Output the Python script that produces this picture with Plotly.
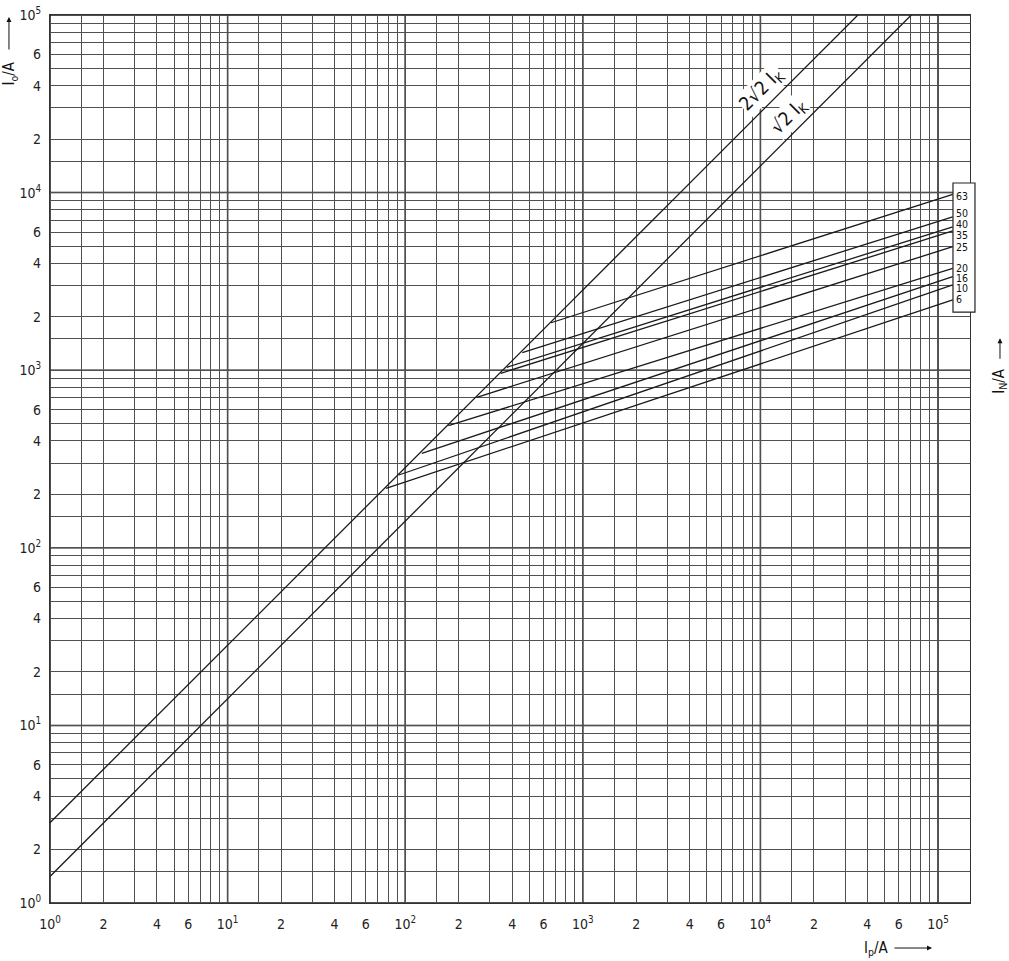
import numpy as np
import plotly.graph_objects as go

# ---- data ----
# limiting lines (Io = k * Ip)
ip_2sqrt2 = [1.0, 35400.0]
io_2sqrt2 = [2.83, 100000.0]
ip_sqrt2 = [1.0, 70700.0]
io_sqrt2 = [1.41, 100000.0]

# fuse ratings IN / A
ratings = ["63", "50", "40", "35", "25", "20", "16", "10", "6"]
ip_start = [662, 456, 373, 345, 253, 175, 124, 92, 78]
io_start = [1850, 1255, 1038, 961, 704, 487, 340, 257, 216]
ip_end = 121000
io_end = [9780, 7310, 6420, 6080, 4960, 3740, 3360, 3020, 2485]
label_io = [9600, 7640, 6620, 5770, 4920, 3780, 3290, 2890, 2517]

decades = [1, 10, 100, 1000, 10000, 100000]
labelled_mult = [2, 4, 6]
minor_mult = [1.5, 2, 3, 4, 5, 6, 7, 8, 9]

FONT = "DejaVu Sans Condensed, Liberation Sans Narrow, DejaVu Sans, sans-serif"

tickvals, ticktext = [], []
for i, d in enumerate(decades):
    tickvals.append(d)
    ticktext.append(f"10<sup>{i}</sup>")
    if d < 100000:
        for m in labelled_mult:
            tickvals.append(d * m)
            ticktext.append(str(m))
minor_vals = [d * m for d in decades[:-1] for m in minor_mult] + [150000]

fig = go.Figure()
line_style = dict(color="#1a1a1a", width=1.3)
fig.add_trace(go.Scatter(x=ip_2sqrt2, y=io_2sqrt2, mode="lines", line=line_style,
                         hoverinfo="skip", showlegend=False))
fig.add_trace(go.Scatter(x=ip_sqrt2, y=io_sqrt2, mode="lines", line=line_style,
                         hoverinfo="skip", showlegend=False))
for r, x0, y0, y1 in zip(ratings, ip_start, io_start, io_end):
    fig.add_trace(go.Scatter(x=[x0, ip_end], y=[y0, y1], mode="lines", line=line_style,
                             name=r, hoverinfo="skip", showlegend=False))

axis_common = dict(
    type="log", tickvals=tickvals, ticktext=ticktext,
    showgrid=True, gridcolor="#505050", gridwidth=1,
    minor=dict(tickvals=minor_vals, showgrid=True, gridcolor="#505050", gridwidth=1, ticks=""),
    showline=True, linecolor="#333333", linewidth=1.2, mirror=True,
    ticks="", zeroline=False, automargin=False,
    tickfont=dict(family=FONT, size=14, color="#222222"),
)
fig.update_xaxes(**axis_common, range=[0, 5.18], ticklabelstandoff=8)
fig.update_yaxes(**axis_common, range=[0, 5], ticklabelstandoff=5)

shapes = []
for d in decades:
    shapes.append(dict(type="line", xref="x", yref="paper", x0=d, x1=d, y0=0, y1=1,
                       line=dict(color="#151515", width=1.5), layer="below"))
    shapes.append(dict(type="line", xref="paper", yref="y", x0=0, x1=1, y0=d, y1=d,
                       line=dict(color="#151515", width=1.5), layer="below"))
# box holding the rating labels
shapes.append(dict(type="rect", xref="paper", yref="paper", x0=0.9815, x1=1.0054,
                   y0=0.6655, y1=0.8108, line=dict(color="#222222", width=1.2),
                   fillcolor="white", layer="above"))
fig.update_layout(shapes=shapes)

ann = []
for r, yv in zip(ratings, label_io):
    ann.append(dict(xref="paper", yref="y", x=0.9822, y=np.log10(yv), text=r,
                    showarrow=False, xanchor="left", yanchor="middle",
                    font=dict(family=FONT, size=10.5, color="#111111")))
# line labels
ann.append(dict(xref="x", yref="y", x=4.007, y=4.578, text="2√2 I<sub>K</sub>", textangle=-45,
                showarrow=False, bgcolor="white", borderpad=0,
                font=dict(family=FONT, size=19, color="#111111")))
ann.append(dict(xref="x", yref="y", x=4.161, y=4.426, text="√2 I<sub>K</sub>", textangle=-45,
                showarrow=False, bgcolor="white", borderpad=0,
                font=dict(family=FONT, size=19, color="#111111")))
# axis titles
title_font = dict(family=FONT, size=15, color="#111111")
ann.append(dict(xref="paper", yref="paper", x=-0.0435, y=0.934, text="I<sub>o</sub>/A",
                textangle=-90, showarrow=False, xanchor="center", yanchor="middle",
                font=title_font))
ann.append(dict(xref="paper", yref="paper", x=-0.0446, y=0.9977, text="", showarrow=True,
                ax=0, ay=34, arrowhead=2, arrowsize=1, arrowwidth=1, arrowcolor="#111111"))
ann.append(dict(xref="paper", yref="paper", x=1.0326, y=0.588, text="I<sub>N</sub>/A",
                textangle=-90, showarrow=False, xanchor="center", yanchor="middle",
                font=title_font))
ann.append(dict(xref="paper", yref="paper", x=1.0326, y=0.636, text="", showarrow=True,
                ax=0, ay=22, arrowhead=2, arrowsize=1, arrowwidth=1, arrowcolor="#111111"))
ann.append(dict(xref="paper", yref="paper", x=0.898, y=-0.0507, text="I<sub>p</sub>/A",
                showarrow=False, xanchor="center", yanchor="middle", font=title_font))
ann.append(dict(xref="paper", yref="paper", x=0.9587, y=-0.0507, text="", showarrow=True,
                ax=-39, ay=0, arrowhead=2, arrowsize=1, arrowwidth=1, arrowcolor="#111111"))
fig.update_layout(annotations=ann)

fig.update_layout(
    width=1009, height=961,
    margin=dict(l=50, r=39, t=15, b=58, autoexpand=False),
    plot_bgcolor="white", paper_bgcolor="white",
    showlegend=False,
)
fig.write_html("out.html", config={"displayModeBar": False},
               post_script="document.body.style.margin='0';document.body.style.overflow='hidden';")
